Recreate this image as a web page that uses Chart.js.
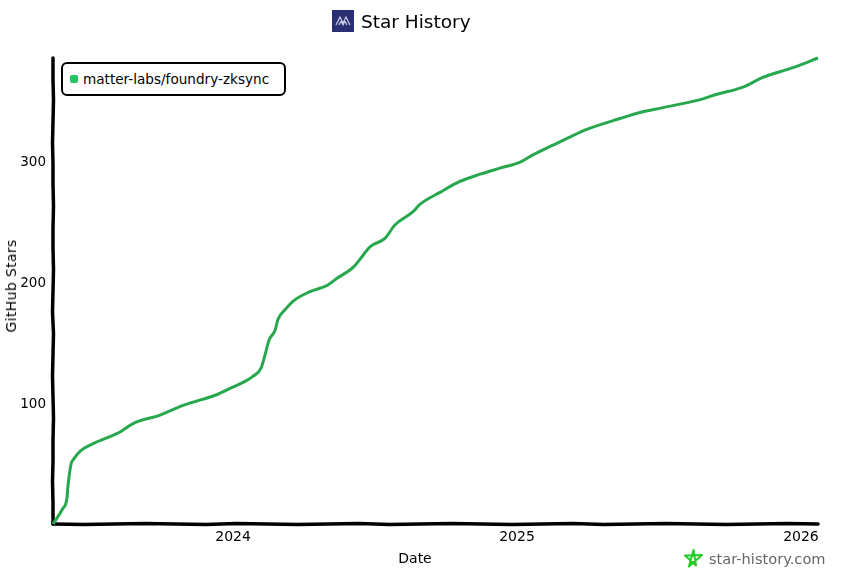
<!DOCTYPE html>
<html>
<head>
<meta charset="utf-8">
<title>Star History</title>
<script src="https://cdn.jsdelivr.net/npm/chart.js@4"></script>
<style>
  html, body { margin: 0; padding: 0; background: #fff; }
  body { width: 857px; height: 577px; position: relative; overflow: hidden; font-family: "DejaVu Sans", sans-serif; color: #000; }
  #wrap { position: absolute; left: 0; top: 0; width: 857px; height: 577px; }
  .head { position: absolute; left: 332px; top: 10px; height: 22px; display: flex; align-items: center; font-size: 18.5px; }
  .head svg { margin-right: 7px; }
  .legend { position: absolute; left: 61px; top: 62px; width: 221px; height: 30px; border: 2px solid #000; border-radius: 6px; background: #fff; display: flex; align-items: center; font-size: 13.6px; white-space: nowrap; }
  .legend i { display: block; width: 8px; height: 8px; margin: 0 5px 0 7px; border-radius: 2px; background: #22c55e; }
  .brand { position: absolute; left: 684px; top: 549px; display: flex; align-items: center; font-size: 14.6px; color: #666; }
  .brand svg { margin-right: 6px; }
  .axis-title { position: absolute; white-space: nowrap; font-size: 14px; line-height: 16px; transform: translate(-50%, -50%); }
  .axis-title.y { letter-spacing: 0.35px; transform: translate(-50%, -50%) rotate(-90deg); }
</style>
</head>
<body>
<div id="wrap"><canvas id="chart"></canvas></div>
<div class="head">
  <svg width="22" height="22" viewBox="0 0 22 22"><rect width="22" height="22" fill="#2a2f73"/><path d="M4 15 L8 7 L11 13 L14 7 L18 15 M7 15 L9 11 L11 15 L13 11 L15 15" fill="none" stroke="#c9cbe6" stroke-width="1.2"/></svg>
  <span>Star History</span>
</div>
<div class="legend"><i></i><span id="legendName"></span></div>
<div class="axis-title" id="xTitle" style="left:415px;top:558px"></div>
<div class="axis-title y" id="yTitle" style="left:11px;top:286px"></div>
<div class="brand">
  <svg width="19" height="19" viewBox="0 0 19 19"><path d="M9.5 1 L12 16.5 L1 6.5 L18 6 L5 17.5 Z" fill="none" stroke="#22cc22" stroke-width="2" stroke-linejoin="round"/></svg>
  <span>star-history.com</span>
</div>
<script>
const repoName = 'matter-labs/foundry-zksync';
const xTitle = 'Date';
const yTitle = 'GitHub Stars';
const yearTicks = [2024, 2025, 2026];
const valueTicks = [100, 200, 300];

// dates as fractional years
const years = [
  2023.366, 2023.401, 2023.415, 2023.419, 2023.430, 2023.437, 2023.461, 2023.504, 2023.602, 2023.648,
  2023.743, 2023.824, 2023.944, 2023.989, 2024.035, 2024.070, 2024.099, 2024.113, 2024.127, 2024.148,
  2024.158, 2024.183, 2024.211, 2024.271, 2024.331, 2024.366, 2024.423, 2024.458, 2024.482, 2024.535,
  2024.570, 2024.634, 2024.658, 2024.729, 2024.799, 2024.870, 2024.940, 2025.011, 2025.056, 2025.127,
  2025.180, 2025.246, 2025.363, 2025.433, 2025.514, 2025.634, 2025.704, 2025.796, 2025.866, 2025.972,
  2026.060
];
const stars = [
  0, 13, 21, 32, 50, 53, 60, 66, 76, 83,
  90, 98, 107, 112, 117, 122, 129, 140, 152, 160,
  169, 177, 184, 192, 197, 203, 212, 222, 229, 236,
  247, 258, 264, 274, 283, 289, 294, 299, 305, 313,
  319, 326, 335, 340, 344, 350, 355, 361, 369, 377,
  385
];

// hand-drawn wobble of the axis lines, in px, spread evenly along each axis
const xAxisWobble = [0, 0.5, 0, -0.5, 0, 0.5, -0.5, 0, 0.5, 0, -0.5, 0.5, 0, -0.5, 0, 0.5, 0, -0.5, 0.5, 0, -0.5, 0, 0.5, 0, -0.5, 0];
const yAxisWobble = [0, 0, 0.5, 0, -0.5, 0, 0, 0.5, 0, 0, 0.5, 0, -0.5, 0.5, 0, -0.5, 0, 0.5, 0, 0, -0.5, 0, 0];

const uiFont = '"DejaVu Sans", sans-serif';

document.getElementById('legendName').textContent = repoName;
document.getElementById('xTitle').textContent = xTitle;
document.getElementById('yTitle').textContent = yTitle;

// plain axis borders look too clean next to the original, so stroke them here
const sketchAxes = {
  id: 'sketchAxes',
  beforeDatasetsDraw(chart) {
    const { ctx, chartArea: a } = chart;
    ctx.save();
    ctx.strokeStyle = '#000';
    ctx.lineWidth = 3.5;
    ctx.lineJoin = 'round';
    ctx.lineCap = 'round';
    ctx.beginPath();
    yAxisWobble.forEach((d, i) => {
      const py = a.top + (a.bottom - a.top) * i / (yAxisWobble.length - 1);
      if (i) ctx.lineTo(a.left + d, py); else ctx.moveTo(a.left + d, py);
    });
    ctx.stroke();
    ctx.beginPath();
    xAxisWobble.forEach((d, i) => {
      const px = a.left + (a.right - a.left) * i / (xAxisWobble.length - 1);
      if (i) ctx.lineTo(px, a.bottom + d); else ctx.moveTo(px, a.bottom + d);
    });
    ctx.stroke();
    ctx.restore();
  },
};

new Chart(document.getElementById('chart'), {
  type: 'line',
  data: {
    datasets: [{
      label: repoName,
      data: years.map((y, i) => ({ x: y, y: stars[i] })),
      borderColor: '#28a84e',
      borderWidth: 3,
      pointRadius: 0,
      cubicInterpolationMode: 'monotone',
      fill: false,
      clip: false,
    }],
  },
  options: {
    responsive: true,
    maintainAspectRatio: false,
    animation: false,
    layout: { padding: { top: 58, right: 39 } },
    plugins: { legend: { display: false }, tooltip: { enabled: false } },
    scales: {
      x: {
        type: 'linear',
        min: years[0],
        max: years[years.length - 1],
        afterBuildTicks: axis => { axis.ticks = yearTicks.map(v => ({ value: v })); },
        afterFit: axis => { axis.height = 53; },
        grid: { display: false, drawTicks: false },
        border: { display: false },
        ticks: { color: '#000', padding: 5, maxRotation: 0, font: { family: uiFont, size: 14 }, callback: v => String(v) },
      },
      y: {
        type: 'linear',
        min: 0,
        max: 385,
        afterBuildTicks: axis => { axis.ticks = valueTicks.map(v => ({ value: v })); },
        afterFit: axis => { axis.width = 53; },
        grid: { display: false, drawTicks: false },
        border: { display: false },
        ticks: { color: '#000', padding: 7, labelOffset: 2, font: { family: uiFont, size: 13.5 } },
      },
    },
  },
  plugins: [sketchAxes],
});
</script>
</body>
</html>
